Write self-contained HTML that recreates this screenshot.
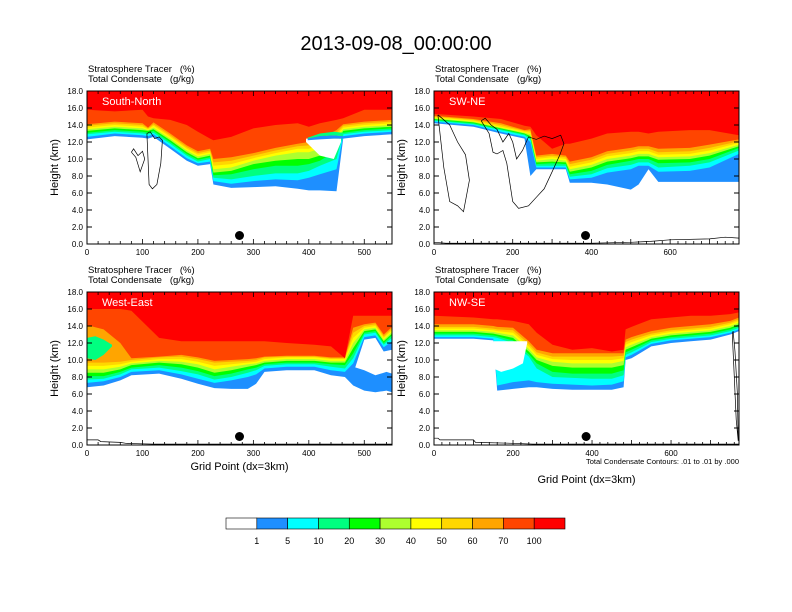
<!DOCTYPE html>
<html><head><meta charset="utf-8">
<style>
html,body{margin:0;padding:0;background:#fff;}
svg{display:block;font-family:"Liberation Sans",sans-serif;}
</style></head>
<body>
<svg id="chart" width="792" height="612" viewBox="0 0 792 612" xmlns="http://www.w3.org/2000/svg">
<rect x="0" y="0" width="792" height="612" fill="#fff"/>
<text x="396" y="50" font-size="20" text-anchor="middle" fill="#000">2013-09-08_00:00:00</text>
</svg>
<script>
// ===== data =====
const levelColors = ["#1e8fff","#00ffff","#00ff80","#00ff00","#adff2f","#ffff00","#ffd700","#ffa500","#ff4500","#ff0000"];
const colorbarLabels = ["1","5","10","20","30","40","50","60","70","100"];

// Panel 1: South-North
const snX = [0,50,100,110,120,150,180,200,222,228,260,300,340,380,400,420,450,462,500,550];
const snBlue = [12.3,12.7,12.5,12.4,12.6,11.2,9.8,9.2,9.4,7.0,6.6,6.7,6.8,6.5,6.3,6.3,6.2,12.4,12.7,12.9];
const snCyan = [12.6,13.0,12.8,12.7,12.9,11.5,10.1,9.5,9.7,7.4,7.1,7.4,7.6,7.5,7.8,8.2,8.8,12.7,13.0,13.2];
const snSgreen = [12.9,13.2,13.0,12.9,13.1,11.8,10.4,9.7,10.0,7.8,7.6,8.0,8.3,8.3,8.6,9.2,10.0,12.9,13.2,13.4];
const snGreen = [13.1,13.4,13.2,13.1,13.3,12.0,10.6,9.9,10.2,8.1,8.2,8.8,9.2,9.2,9.4,9.8,11.0,13.1,13.4,13.6];
const snYgreen = [13.3,13.6,13.4,13.3,13.5,12.2,10.8,10.1,10.4,8.4,8.6,9.4,9.8,10.0,10.0,10.4,11.8,13.3,13.6,13.8];
const snYellow = [13.5,13.8,13.6,13.4,13.7,12.4,11.0,10.3,10.6,8.8,9.0,9.8,10.4,10.8,10.8,11.2,12.4,13.5,13.8,14.0];
const snGold = [13.7,14.0,13.8,13.5,13.9,12.6,11.2,10.5,10.8,9.2,9.4,10.1,10.7,11.2,11.2,11.6,12.8,13.7,14.0,14.2];
const snOrange = [13.9,14.2,14.0,13.6,14.1,12.8,11.4,10.7,11.0,9.6,9.8,10.4,11.0,11.5,11.6,12.0,13.1,13.9,14.2,14.4];
const snOrangered = [14.1,14.4,14.2,13.7,14.3,13.0,11.6,10.9,11.2,10.0,10.2,10.7,11.3,11.8,12.0,12.4,13.4,14.1,14.4,14.6];
const snRed = [15.8,15.6,15.8,15.0,14.8,14.6,14.0,13.2,12.4,12.2,12.6,13.6,14.0,14.2,13.8,14.2,14.6,14.8,15.8,15.8];
const snGapX = [395,420,445,458];
const snGapBottom = [12.0,10.4,10.0,12.0];
const snGapTop = [12.4,12.4,12.4,12.4];
const snBandX = [398,420,445,462];
const snBandBlueBottom = [12.2,12.3,12.4,12.4];
const snBandBlueTop = [12.4,12.7,12.8,12.7];
const snBandGreenBottom = [12.4,12.7,12.8,12.7];
const snBandGreenTop = [12.5,13.0,13.2,13.1];
// condensate contour loops (grid, km)
const snLoopX = [108,112,118,126,133,136,130,122,114,108];
const snLoopY = [13.0,7.0,6.5,7.0,9.5,12.2,12.6,12.4,13.2,13.0];
const snLoop2X = [80,88,96,104,100,92,84,80];
const snLoop2Y = [10.8,10.2,8.5,10.0,10.9,10.4,11.2,10.8];

// Panel 2: SW-NE
const swX = [0,100,170,230,245,260,300,335,345,400,440,500,520,545,570,650,700,775];
const swBlue = [14.2,13.8,13.0,12.4,8.0,8.8,8.8,8.8,7.2,7.2,7.0,6.4,7.0,8.8,7.3,7.3,7.3,7.3];
const swCyan = [14.4,14.0,13.2,12.6,12.0,9.0,9.0,9.0,7.6,7.8,8.4,8.8,9.2,9.2,8.5,8.6,9.0,10.6];
const swSgreen = [14.5,14.1,13.4,12.8,12.3,9.2,9.2,9.2,7.9,8.2,8.9,9.3,9.6,9.6,9.0,9.2,9.6,11.0];
const swGreen = [14.6,14.2,13.5,12.9,12.5,9.4,9.5,9.4,8.2,8.6,9.3,9.8,10.0,10.0,9.5,9.6,10.0,11.3];
const swYgreen = [14.7,14.3,13.6,13.0,12.7,9.6,9.7,9.6,8.5,9.0,9.7,10.1,10.3,10.3,9.9,10.0,10.4,11.5];
const swYellow = [14.8,14.4,13.7,13.1,12.9,9.8,10.0,9.8,8.8,9.3,10.0,10.4,10.6,10.6,10.2,10.3,10.7,11.7];
const swGold = [14.9,14.5,13.8,13.2,13.1,10.0,10.2,10.0,9.1,9.6,10.3,10.7,10.9,10.9,10.5,10.6,11.0,11.9];
const swOrange = [15.0,14.6,14.0,13.3,13.3,10.2,10.4,10.2,9.4,9.9,10.6,11.0,11.2,11.2,10.8,10.9,11.3,12.1];
const swOrangered = [15.1,14.7,14.2,13.4,13.5,10.4,10.6,10.4,9.7,10.2,10.9,11.3,11.5,11.5,11.2,11.3,11.7,12.3];
const swRed = [15.3,15.0,14.7,13.9,13.8,12.8,11.2,11.8,11.8,12.4,13.0,13.2,13.2,13.0,13.2,13.4,13.4,12.8];
const swLoopX = [120,140,150,160,175,185,200,215,240,260,280,300,320,330,322,300,280,260,240,225,210,200,190,175,160,145,130,120];
const swLoopY = [14.5,13.0,10.8,10.6,11.0,9.5,5.0,4.2,4.5,5.5,6.5,8.5,10.5,11.8,12.8,12.4,12.7,12.3,12.6,11.0,10.0,12.0,13.0,12.0,13.5,14.0,14.8,14.5];
const swLoop2X = [10,25,40,60,75,90,80,60,40,20,10];
const swLoop2Y = [15.2,9.0,5.0,4.5,3.8,7.5,10.5,12.0,14.0,14.8,15.2];

// Panel 3: West-East
const weX = [0,30,60,80,130,170,200,230,260,290,305,320,360,410,440,465,480,500,520,535,550];
const weBlue = [6.8,7.0,7.6,8.2,8.4,7.8,7.2,6.7,6.6,6.6,7.2,8.6,8.8,8.8,8.2,8.0,8.4,12.4,12.6,11.0,11.2];
const weCyan = [7.3,7.5,8.0,8.6,8.8,8.3,7.8,7.3,7.6,8.0,8.3,9.0,9.2,9.2,8.8,8.6,9.6,12.7,12.9,11.5,12.2];
const weSgreen = [7.7,7.8,8.3,8.9,9.1,8.7,8.3,7.7,8.0,8.5,8.8,9.3,9.5,9.5,9.2,9.0,10.2,13.0,13.2,11.8,12.6];
const weGreen = [8.1,8.1,8.6,9.1,9.4,9.1,8.7,8.1,8.4,8.9,9.1,9.5,9.7,9.7,9.5,9.4,10.8,13.2,13.4,12.0,12.9];
const weYgreen = [8.5,8.5,8.9,9.4,9.7,9.5,9.1,8.5,8.8,9.2,9.4,9.7,9.9,9.9,9.7,9.7,11.4,13.4,13.6,12.2,13.1];
const weYellow = [8.9,8.9,9.2,9.6,9.9,9.8,9.5,8.9,9.2,9.5,9.6,9.9,10.1,10.1,9.9,9.9,12.0,13.6,13.8,12.4,13.3];
const weGold = [9.3,9.3,9.5,9.8,10.1,10.1,9.8,9.3,9.5,9.7,9.8,10.1,10.3,10.3,10.1,10.1,12.6,13.8,14.0,12.6,13.5];
const weOrange = [9.7,9.7,9.8,10.0,10.3,10.4,10.1,9.7,9.8,9.9,10.0,10.3,10.4,10.4,10.2,10.2,13.2,14.0,14.2,12.8,13.7];
const weOrangered = [14.1,13.6,12.0,10.2,10.4,10.6,10.3,9.9,10.0,10.1,10.2,10.4,10.5,10.5,10.3,10.3,13.8,14.2,14.4,13.0,13.9];
const weRed = [16.0,16.0,16.0,15.8,12.6,12.2,12.2,12.2,12.2,12.2,12.2,12.2,12.0,11.8,11.6,10.2,15.2,15.2,15.2,15.2,15.2];
const weBlobX = [0,15,30,45];
const weBlobBottom = [10.2,10.0,10.6,11.6];
const weBlobTop = [12.6,12.8,12.4,11.8];
const weLowX = [465,480,500,520,540,550];
const weLowBottom = [8.0,7.0,6.4,6.2,6.4,6.2];
const weLowTop = [8.0,9.2,8.8,8.2,8.6,8.4];
const weTerrainX = [0,20,25,60,70,90,120,550];
const weTerrainY = [0.6,0.6,0.4,0.3,0.2,0.15,0.1,0.1];

// Panel 4: NW-SE
const nwX = [0,100,150,160,200,240,260,300,350,400,450,480,485,500,550,600,650,700,750,772];
const nwBlue = [12.5,12.5,12.3,6.4,6.6,6.8,6.8,6.6,6.5,6.5,6.5,6.8,10.0,10.2,11.6,12.0,12.2,12.4,13.0,13.4];
const nwCyan = [12.7,12.7,12.5,7.0,7.4,7.6,7.4,7.2,7.1,7.0,7.1,7.5,10.3,10.6,11.9,12.3,12.5,12.7,13.2,13.6];
const nwSgreen = [12.9,12.9,12.7,12.6,12.0,10.4,9.0,8.0,7.9,7.8,7.8,8.2,10.6,10.9,12.1,12.5,12.7,12.9,13.4,13.8];
const nwGreen = [13.1,13.1,12.9,12.8,12.3,10.7,9.6,8.6,8.4,8.4,8.4,8.8,10.9,11.2,12.3,12.7,12.9,13.1,13.6,14.0];
const nwYgreen = [13.3,13.3,13.1,13.0,12.6,11.0,10.0,9.3,9.1,9.1,9.1,9.4,11.2,11.5,12.5,12.9,13.1,13.3,13.8,14.2];
const nwYellow = [13.5,13.5,13.3,13.2,12.9,11.3,10.3,9.8,9.6,9.6,9.6,9.9,11.5,11.8,12.7,13.1,13.3,13.5,14.0,14.4];
const nwGold = [13.7,13.7,13.5,13.4,13.2,11.6,10.6,10.1,10.0,10.0,10.0,10.2,11.8,12.1,12.9,13.3,13.5,13.7,14.2,14.6];
const nwOrange = [13.9,13.9,13.7,13.6,13.5,11.9,10.9,10.4,10.4,10.4,10.4,10.5,12.1,12.4,13.1,13.5,13.7,13.9,14.4,14.8];
const nwOrangered = [14.2,14.2,14.0,13.9,13.8,12.2,11.2,10.8,10.8,10.8,10.8,10.8,12.4,12.7,13.4,13.8,14.0,14.2,14.6,15.0];
const nwRed = [15.2,15.0,14.8,14.8,14.6,14.2,13.2,11.8,11.2,11.4,11.0,11.2,13.6,13.9,14.8,15.0,15.2,15.2,15.4,15.6];
const nwGapX = [150,170,200,225,236];
const nwGapBottom = [9.0,8.6,9.0,9.6,12.0];
const nwGapTop = [12.2,12.2,12.2,12.2,12.2];
const nwTerrainX = [0,10,15,100,105,200,250,772];
const nwTerrainY = [0.8,0.8,0.6,0.6,0.3,0.2,0.1,0.1];
const nwLoopX = [755,760,765,770,768,762,757,755];
const nwLoopY = [13.0,8.0,3.0,0.5,6.0,11.0,13.4,13.0];

const swTerrainX = [0,30,400,500,550,600,700,740,775];
const swTerrainY = [0.2,0.1,0.1,0.2,0.3,0.5,0.6,0.8,0.7];

const xTicksShort = [0,100,200,300,400,500];
const xTicksLong = [0,200,400,600];
const yTicks = [0,2,4,6,8,10,12,14,16,18];
const markerGrid = [275,385,275,385];

// ===== drawing =====
const NS = "http://www.w3.org/2000/svg";
const svg = document.getElementById("chart");
function mk(tag, attrs, parent){
  const e = document.createElementNS(NS, tag);
  for (const k in attrs) e.setAttribute(k, attrs[k]);
  (parent||svg).appendChild(e);
  return e;
}

const panels = [
  {name:"south-north", label:"South-North", left:87, top:91, w:305, h:153, xmax:550, xticks:xTicksShort, xs:snX,
   layers:[snBlue,snCyan,snSgreen,snGreen,snYgreen,snYellow,snGold,snOrange,snOrangered,snRed],
   patches:[{c:"#fff",x:snGapX,b:snGapBottom,t:snGapTop},
            {c:"#1e8fff",x:snBandX,b:snBandBlueBottom,t:snBandBlueTop},
            {c:"#00ff80",x:snBandX,b:snBandGreenBottom,t:snBandGreenTop}],
   lines:[{x:snLoopX,y:snLoopY},{x:snLoop2X,y:snLoop2Y}], xlabel:false},
  {name:"sw-ne", label:"SW-NE", left:434, top:91, w:305, h:153, xmax:775, xticks:xTicksLong, xs:swX,
   layers:[swBlue,swCyan,swSgreen,swGreen,swYgreen,swYellow,swGold,swOrange,swOrangered,swRed],
   patches:[], lines:[{x:swLoopX,y:swLoopY},{x:swLoop2X,y:swLoop2Y},{x:swTerrainX,y:swTerrainY}], xlabel:false},
  {name:"west-east", label:"West-East", left:87, top:292, w:305, h:153, xmax:550, xticks:xTicksShort, xs:weX,
   layers:[weBlue,weCyan,weSgreen,weGreen,weYgreen,weYellow,weGold,weOrange,weOrangered,weRed],
   patches:[{c:"#00ff80",x:weBlobX,b:weBlobBottom,t:weBlobTop},{c:"#1e8fff",x:weLowX,b:weLowBottom,t:weLowTop}],
   lines:[{x:weTerrainX,y:weTerrainY}], xlabel:true},
  {name:"nw-se", label:"NW-SE", left:434, top:292, w:305, h:153, xmax:772, xticks:xTicksLong, xs:nwX,
   layers:[nwBlue,nwCyan,nwSgreen,nwGreen,nwYgreen,nwYellow,nwGold,nwOrange,nwOrangered,nwRed],
   patches:[{c:"#fff",x:nwGapX,b:nwGapBottom,t:nwGapTop}],
   lines:[{x:nwTerrainX,y:nwTerrainY},{x:nwLoopX,y:nwLoopY}], xlabel:true}
];

panels.forEach((p, pi) => {
  const g = mk("g", {});
  
  
  const sx = v => p.left + v / p.xmax * p.w;
  const sy = v => p.top + p.h - v / 18 * p.h;
  const clipId = "clip" + pi;
  const cp = mk("clipPath", {id: clipId}, g);
  mk("rect", {x:p.left, y:p.top, width:p.w, height:p.h}, cp);
  const plot = mk("g", {"clip-path":"url(#"+clipId+")"}, g);
  
  

  p.layers.forEach((arr, li) => {
    let pts = [];
    p.xs.forEach((x, i) => pts.push(sx(x).toFixed(1) + "," + sy(arr[i]).toFixed(1)));
    pts.push(sx(p.xs[p.xs.length-1]).toFixed(1) + "," + sy(18).toFixed(1));
    pts.push(sx(p.xs[0]).toFixed(1) + "," + sy(18).toFixed(1));
    const poly = mk("polygon", {points: pts.join(" "), fill: levelColors[li]}, plot);
    
    
  });
  p.patches.forEach(pt => {
    let pts = [];
    pt.x.forEach((x, i) => pts.push(sx(x).toFixed(1) + "," + sy(pt.t[i]).toFixed(1)));
    for (let i = pt.x.length - 1; i >= 0; i--) pts.push(sx(pt.x[i]).toFixed(1) + "," + sy(pt.b[i]).toFixed(1));
    const poly = mk("polygon", {points: pts.join(" "), fill: pt.c}, plot);
    
    
  });
  p.lines.forEach(ln => {
    const pts = ln.x.map((x, i) => sx(x).toFixed(1) + "," + sy(ln.y[i]).toFixed(1)).join(" ");
    const pl = mk("polyline", {points: pts, fill:"none", stroke:"#000", "stroke-width":0.7}, plot);
    
    
  });

  const dot = mk("circle", {cx: sx(markerGrid[pi]), cy: sy(1.0), r: 4.5, fill: "#000"}, g);
  
  

  const fr = mk("rect", {x:p.left, y:p.top, width:p.w, height:p.h, fill:"none", stroke:"#000", "stroke-width":1}, g);
  
  

  yTicks.forEach(v => {
    const y = sy(v);
    mk("line", {x1:p.left, x2:p.left+5, y1:y, y2:y, stroke:"#000"}, g);
    mk("line", {x1:p.left+p.w, x2:p.left+p.w-5, y1:y, y2:y, stroke:"#000"}, g);
    const t = mk("text", {x:p.left-4, y:y+3, "font-size":8, "text-anchor":"end"}, g);
    t.textContent = v.toFixed(1);
    
    
  });
  for (let v = 0; v <= p.xmax; v += 20) {
    const major = v % 100 === 0;
    const x = sx(v), L = major ? 5 : 3;
    mk("line", {x1:x, x2:x, y1:p.top+p.h, y2:p.top+p.h-L, stroke:"#000", "stroke-width":0.8}, g);
    mk("line", {x1:x, x2:x, y1:p.top, y2:p.top+L, stroke:"#000", "stroke-width":0.8}, g);
  }
  p.xticks.forEach(v => {
    const t = mk("text", {x:sx(v), y:p.top+p.h+11, "font-size":8, "text-anchor":"middle"}, g);
    t.textContent = v;
    
    
  });

  const lb = mk("text", {x:p.left+15, y:p.top+14, "font-size":11, fill:"#fff"}, g);
  lb.textContent = p.label;
  
  
  const s1 = mk("text", {x:p.left+1, y:p.top-19, "font-size":9.5}, g);
  s1.textContent = "Stratosphere Tracer   (%)";
  
  
  s1.style.whiteSpace = "pre";
  const s2 = mk("text", {x:p.left+1, y:p.top-9, "font-size":9.5}, g);
  s2.textContent = "Total Condensate   (g/kg)";
  
  
  s2.style.whiteSpace = "pre";
  const yl = mk("text", {x:0, y:0, "font-size":11, "text-anchor":"middle", transform:"translate("+(p.left-29)+","+(p.top+p.h/2)+") rotate(-90)"}, g);
  yl.textContent = "Height (km)";
  
  
  if (p.xlabel) {
    const xl = mk("text", {x:p.left+p.w/2, y: pi===3 ? 483 : 470, "font-size":11, "text-anchor":"middle"}, g);
    xl.textContent = "Grid Point (dx=3km)";
    
    
  }
  if (pi === 3) {
    const n = mk("text", {x:p.left+p.w, y:464, "font-size":7.5, "text-anchor":"end"}, g);
    n.textContent = "Total Condensate Contours: .01 to .01 by .000";
    
    
  }
});

const cb = mk("g", {});


const cbColors = ["#ffffff"].concat(levelColors);
const cbLeft = 226, cbW = 339, cbTop = 518, cbH = 11, boxW = cbW / cbColors.length;
cbColors.forEach((c, i) => {
  const r = mk("rect", {x:cbLeft + i*boxW, y:cbTop, width:boxW, height:cbH, fill:c, stroke:"#000", "stroke-width":0.6}, cb);
  
  
});
colorbarLabels.forEach((l, i) => {
  const t = mk("text", {x:cbLeft + (i+1)*boxW, y:544, "font-size":9, "text-anchor":"middle"}, cb);
  t.textContent = l;
  
  
});
</script>
</body></html>
